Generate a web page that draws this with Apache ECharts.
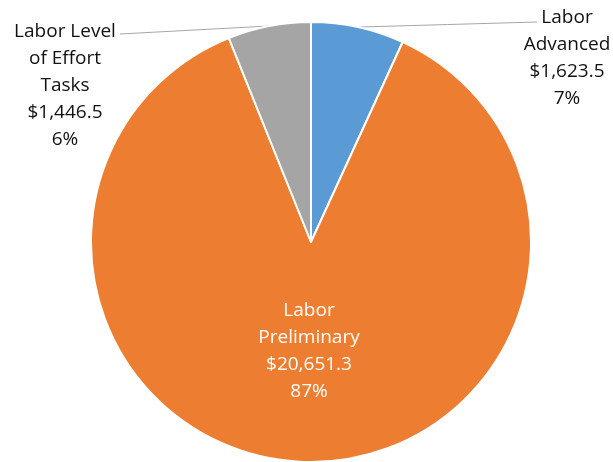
<!DOCTYPE html>
<html>
<head>
<meta charset="utf-8">
<script src="https://cdn.jsdelivr.net/npm/echarts@6/dist/echarts.min.js"></script>
<style>
  html, body { margin: 0; padding: 0; background: #fff; }
  #chart { width: 613px; height: 462px; }
</style>
</head>
<body>
<div id="chart"></div>
<script>
// Labor cost breakdown
const categories = ['Labor\nAdvanced', 'Labor\nPreliminary', 'Labor Level\nof Effort\nTasks'];
const values = [1623.5, 20651.3, 1446.5];
const colors = ['#5B9BD5', '#ED7D31', '#A5A5A5'];

// where each label block sits (center x, top y) and where its leader line ends
const labelSpots = [
  { x: 567, y: 4, lineTo: [537, 22] },
  { x: 309, y: 297, lineTo: null },
  { x: 65, y: 18, lineTo: [120, 34] }
];

function money(v) {
  return '$' + v.toLocaleString('en-US', { minimumFractionDigits: 1, maximumFractionDigits: 1 });
}

const chart = echarts.init(document.getElementById('chart'), null, { renderer: 'canvas' });

chart.setOption({
  animation: false,
  series: [{
    type: 'pie',
    center: [311, 242],
    radius: 220,
    startAngle: 90,
    clockwise: true,
    avoidLabelOverlap: false,
    itemStyle: { borderColor: '#fff', borderWidth: 2 },
    label: {
      show: true,
      position: 'outside',
      fontFamily: 'Open Sans',
      fontSize: 19,
      lineHeight: 27,
      color: '#111',
      align: 'center',
      formatter: p => p.name + '\n' + money(p.value) + '\n' + Math.round(p.percent) + '%'
    },
    labelLine: {
      show: true,
      length: 0,
      length2: 0,
      lineStyle: { color: '#A6A6A6', width: 1 }
    },
    labelLayout: function (params) {
      const s = labelSpots[params.dataIndex];
      const out = { x: s.x, y: s.y, align: 'center', verticalAlign: 'top' };
      if (s.lineTo && params.labelLinePoints) {
        const a = params.labelLinePoints[0];
        const b = s.lineTo;
        out.labelLinePoints = [a, [(a[0] + b[0]) / 2, (a[1] + b[1]) / 2], b];
      }
      return out;
    },
    data: categories.map((name, i) => ({
      name: name,
      value: values[i],
      itemStyle: { color: colors[i] },
      label: i === 1 ? { position: 'inside', color: '#fff' } : {},
      labelLine: i === 1 ? { show: false } : {}
    }))
  }]
});
</script>
</body>
</html>
